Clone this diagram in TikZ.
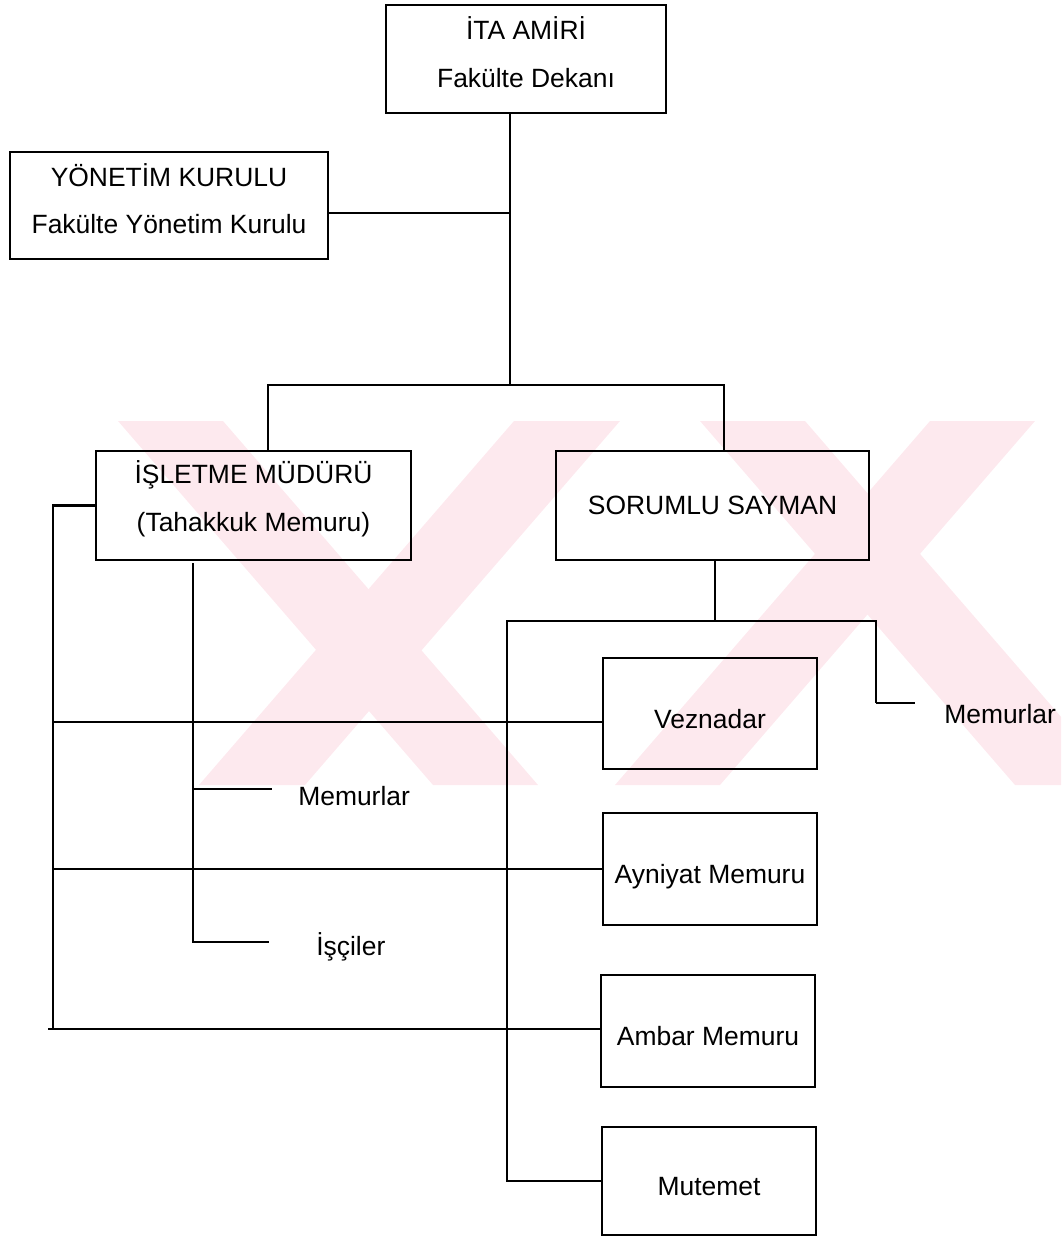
\documentclass[tikz,border=0pt]{standalone}
\usepackage{fontspec}
\setmainfont{Liberation Sans}
\usetikzlibrary{positioning, backgrounds}
\definecolor{wmpink}{RGB}{253,233,238}

\begin{document}
\begin{tikzpicture}[
    x=0.025cm, y=-0.025cm,
    font=\fontsize{18.8}{34}\selectfont,
    box/.style={
        draw, line width=2pt, align=center,
        inner sep=0pt,
    },
    twoline/.style={box, text depth=0.35cm},
    oneline/.style={box, text height=0.8cm, text depth=0.075cm},
    lbl/.style={inner sep=0pt},
    con/.style={line width=1.9pt},
]
\useasboundingbox (0,0) rectangle (1061,1236);

% --- Upper level -------------------------------------------
\node[twoline, minimum width=7cm, minimum height=2.7cm] (ita) at (526,59)
    {İTA AMİRİ \\ Fakülte Dekanı};
\node[twoline, minimum width=7.95cm, minimum height=2.675cm] (yk) at (169,205.5)
    {YÖNETİM KURULU \\ Fakülte Yönetim Kurulu};

% --- Middle level ------------------------------------------
\node[twoline, text depth=0.48cm, minimum width=7.875cm, minimum height=2.725cm] (isl) at (253.5,505.5)
    {İŞLETME MÜDÜRÜ \\ (Tahakkuk Memuru)};
\node[box, minimum width=7.825cm, minimum height=2.725cm] (say) at (712.5,505.5)
    {SORUMLU SAYMAN};

% --- Lower boxes -------------------------------------------
\node[oneline, minimum width=5.35cm, minimum height=2.775cm] (vez) at (710,713.5) {Veznadar};
\node[oneline, minimum width=5.35cm, minimum height=2.8cm] (ayn) at (710,869) {Ayniyat Memuru};
\node[oneline, minimum width=5.35cm, minimum height=2.8cm] (amb) at (708,1031) {Ambar Memuru};
\node[oneline, minimum width=5.35cm, minimum height=2.7cm] (mut) at (709,1181) {Mutemet};

% --- Free labels -------------------------------------------
\node[lbl, anchor=base west] (smem) at (944,723) {Memurlar};
\node[lbl, anchor=base west] (imem) at (298,805) {Memurlar};
\node[lbl, anchor=base west] (iisc) at (316,955) {İşçiler};

% --- Junctions ---------------------------------------------
\coordinate (top) at (510,385);
\coordinate (ytee) at (510,213);
\coordinate (lft) at (268,385);
\coordinate (rgt) at (724,385);
\coordinate (sdrop) at (715,621);
\coordinate (sL) at (507,621);
\coordinate (sR) at (876,621);
\coordinate (sM) at (876,703);
\coordinate (sMend) at (915,703);
\coordinate (bus) at (53,503);
\coordinate (vzr) at (53,722);
\coordinate (ayr) at (53,869);
\coordinate (abr) at (48,1029);
\coordinate (iTop) at (193,563);
\coordinate (iMem) at (193,789);
\coordinate (iMemE) at (272,789);
\coordinate (iIsc) at (193,942);
\coordinate (iIscE) at (269,942);

% --- Connectors --------------------------------------------
\draw[con] (ita.south -| top) -- (top);
\draw[con] (yk.east |- ytee) -- (ytee);
\draw[con] (isl.north -| lft) -- (lft) -- (rgt) -- (say.north -| rgt);
\draw[con] (say.south -| sdrop) -- (sdrop);
\draw[con] (sM) -- (sR) -- (sL) -- (sL |- mut.west) -- (mut.west);
\draw[con] (sM) -- (sMend);
\draw[con] (isl.west) -- (isl.west -| bus) -- (bus |- abr);
\draw[con] (abr) -- (abr -| amb.west);
\draw[con] (vzr) -- (vzr -| vez.west);
\draw[con] (ayr) -- (ayr -| ayn.west);
\draw[con] (iTop) -- (iIsc) -- (iIscE);
\draw[con] (iMem) -- (iMemE);

% --- Watermark ---------------------------------------------
\begin{scope}[on background layer]
\clip (0,421) rectangle (1061,785);
\fill[wmpink] (118,421) -- (223,421) -- (538,785) -- (433,785) -- cycle;
\fill[wmpink] (514,421) -- (620,421) -- (305,785) -- (199,785) -- cycle;
\fill[wmpink] (700,421) -- (805,421) -- (1120,785) -- (1015,785) -- cycle;
\fill[wmpink] (930,421) -- (1035,421) -- (720,785) -- (615,785) -- cycle;
\end{scope}

\end{tikzpicture}
\end{document}
